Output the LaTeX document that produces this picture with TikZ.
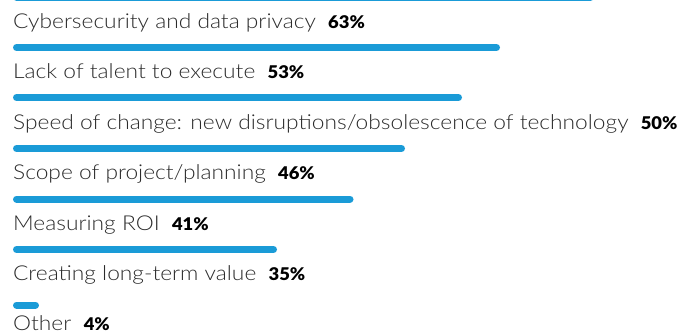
\documentclass[tikz,border=0pt]{standalone}
\usepackage{fontspec}
\setmainfont{Lato}[UprightFont={* Light},BoldFont={* Black},FakeStretch=1.11]
\newfontfamily\pctfont{Lato}[UprightFont={* Black},FakeStretch=1.05]
\definecolor{barblue}{HTML}{1A9BD7}
\definecolor{txt}{HTML}{2B2B2B}
\tikzset{
  lbl/.style={anchor=base west,inner sep=0pt,text=txt,font=\fontsize{20.5}{24}\selectfont},
  pct/.style={anchor=base west,inner sep=0pt,text=black,font=\fontsize{17.5}{20}\pctfont},
  bar/.style={line width=7pt,line cap=round,draw=barblue},
}
\begin{document}
\begin{tikzpicture}[x=1pt,y=-1pt]
\useasboundingbox (0,0) rectangle (694,335);
\clip (0,0) rectangle (694,335);
\draw[bar] (16.5,-3) -- (590.5,-3);
\node[lbl] (l1) at (13,28) {Cybersecurity and data privacy};
\node[pct] (p1) at ([xshift=12pt]l1.base east) {63\%};
\draw[bar] (16.5,47.5) -- (496.5,47.5);
\node[lbl] (l2) at (13,78.5) {Lack of talent to execute};
\node[pct] (p2) at ([xshift=12pt]l2.base east) {53\%};
\draw[bar] (16.5,97.5) -- (458.5,97.5);
\node[lbl] (l3) at (13,129) {Speed of change: new disruptions/obsolescence of technology};
\node[pct] (p3) at ([xshift=12pt]l3.base east) {50\%};
\draw[bar] (16.5,148.5) -- (401.5,148.5);
\node[lbl] (l4) at (13,179.5) {Scope of project/planning};
\node[pct] (p4) at ([xshift=12pt]l4.base east) {46\%};
\draw[bar] (16.5,199) -- (350,199);
\node[lbl] (l5) at (13,230) {Measuring ROI};
\node[pct] (p5) at ([xshift=12pt]l5.base east) {41\%};
\draw[bar] (16.5,249.5) -- (273.5,249.5);
\node[lbl] (l6) at (13,280) {Creating long-term value};
\node[pct] (p6) at ([xshift=12pt]l6.base east) {35\%};
\draw[bar] (16.5,305) -- (35.5,305);
\node[lbl] (l7) at (13,330) {Other};
\node[pct] (p7) at ([xshift=12pt]l7.base east) {4\%};
\end{tikzpicture}
\end{document}
